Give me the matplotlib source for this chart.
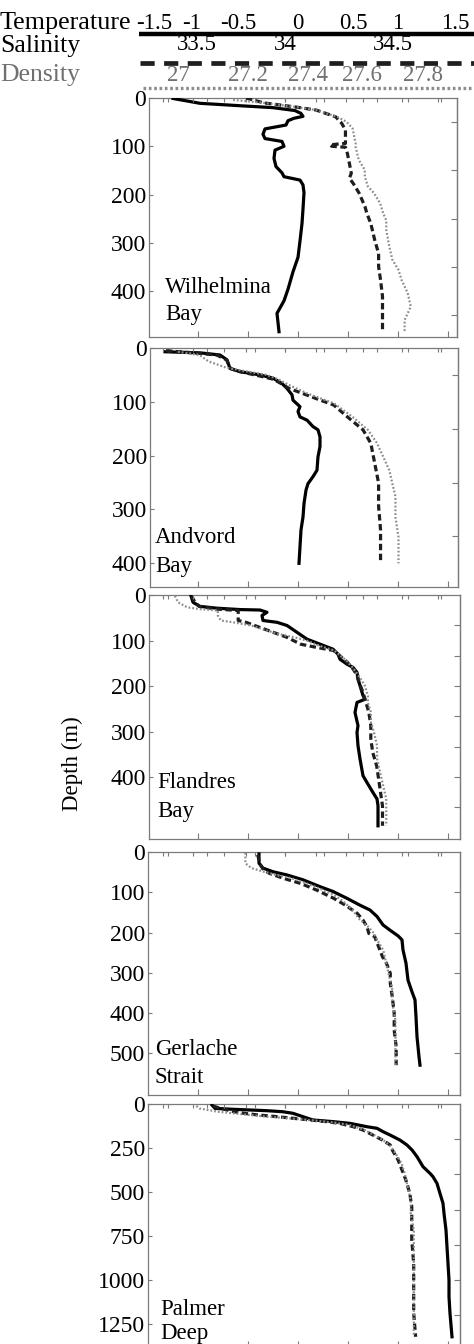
import matplotlib.pyplot as plt
import numpy as np

plt.rcParams['font.family'] = ['Liberation Serif', 'DejaVu Serif']

# ------------------------------------------------------------
# CTD profiles (depth in m, temperature degC, salinity, sigma-t)
# ------------------------------------------------------------
station_names = ['Wilhelmina\nBay', 'Andvord\nBay', 'Flandres\nBay',
                 'Gerlache\nStrait', 'Palmer\nDeep']

wb_temp_depth = [1, 11, 16, 20, 26, 32, 38, 42, 47, 56, 64, 75, 84, 90, 100, 108,
                 125, 142, 155, 163, 170, 180, 196, 230, 260, 296, 330, 360, 396,
                 420, 446, 465, 484]
wb_temp = [-1.25, -0.98, -0.58, -0.25, -0.03, 0.03, 0.05, -0.04, -0.10, -0.12,
           -0.33, -0.35, -0.33, -0.16, -0.14, -0.23, -0.24, -0.22, -0.16, -0.14,
           0.02, 0.05, 0.06, 0.05, 0.04, 0.02, 0.00, -0.05, -0.10, -0.14, -0.21,
           -0.20, -0.19]
wb_sal_depth = [0, 10, 19, 25, 39, 52, 66, 80, 94, 97, 100, 102, 115, 135, 156,
                166, 177, 197, 225, 239, 260, 294, 322, 349, 377, 411, 439, 460, 484]
wb_sal = [33.80, 33.89, 34.06, 34.16, 34.26, 34.29, 34.31, 34.31, 34.31, 34.23,
          34.24, 34.31, 34.32, 34.33, 34.34, 34.33, 34.35, 34.38, 34.41, 34.42,
          34.44, 34.46, 34.48, 34.48, 34.49, 34.50, 34.50, 34.50, 34.50]
wb_dens_depth = [4, 10, 19, 25, 39, 49, 63, 94, 101, 128, 149, 163, 183, 197, 218,
                 239, 253, 273, 308, 335, 356, 377, 404, 432, 446, 460, 484]
wb_dens = [27.18, 27.28, 27.39, 27.45, 27.52, 27.55, 27.57, 27.58, 27.58, 27.59,
           27.61, 27.61, 27.62, 27.64, 27.66, 27.67, 27.68, 27.68, 27.69, 27.70,
           27.72, 27.73, 27.75, 27.76, 27.75, 27.74, 27.74]

ab_temp_depth = [7, 9, 13, 22, 38, 44, 50, 56, 66, 75, 87, 97, 109, 118, 128, 134,
                 146, 152, 165, 183, 202, 227, 239, 252, 264, 289, 314, 338, 369, 400]
ab_temp = [-1.33, -0.98, -0.78, -0.71, -0.68, -0.58, -0.38, -0.25, -0.16, -0.11,
           -0.06, -0.05, 0.02, 0.00, 0.02, 0.09, 0.15, 0.20, 0.22, 0.22, 0.20, 0.19,
           0.15, 0.10, 0.08, 0.06, 0.05, 0.03, 0.02, 0.01]
ab_sal_depth = [5, 10, 13, 22, 38, 44, 52, 58, 66, 75, 83, 94, 106, 131, 152, 177,
                214, 251, 294, 338, 400]
ab_sal = [33.39, 33.56, 33.65, 33.70, 33.72, 33.77, 33.87, 33.94, 33.98, 34.02,
          34.08, 34.16, 34.25, 34.33, 34.40, 34.44, 34.46, 34.48, 34.48, 34.49, 34.49]
ab_dens_depth = [7, 13, 25, 37, 43, 50, 59, 68, 84, 103, 128, 152, 177, 202, 227,
                 252, 276, 314, 351, 400]
ab_dens = [27.00, 27.07, 27.10, 27.16, 27.22, 27.29, 27.33, 27.36, 27.42, 27.51,
           27.57, 27.62, 27.65, 27.67, 27.69, 27.70, 27.71, 27.71, 27.72, 27.72]

fb_temp_depth = [2, 16, 25, 29, 32, 33, 38, 45, 56, 60, 67, 82, 97, 108, 119, 130,
                 141, 152, 159, 170, 185, 199, 221, 229, 236, 258, 287, 302, 331,
                 360, 397, 412, 434, 448, 463, 507]
fb_temp = [-1.07, -1.05, -0.98, -0.81, -0.58, -0.38, -0.31, -0.36, -0.35, -0.21,
           -0.11, -0.01, 0.09, 0.22, 0.35, 0.40, 0.42, 0.49, 0.55, 0.59, 0.60, 0.62,
           0.65, 0.67, 0.59, 0.57, 0.60, 0.59, 0.60, 0.62, 0.65, 0.69, 0.75, 0.79,
           0.80, 0.80]
fb_sal_depth = [2, 17, 25, 31, 34, 56, 60, 71, 82, 93, 108, 115, 122, 133, 148, 163,
                177, 192, 214, 229, 243, 258, 287, 316, 346, 375, 404, 434, 463, 507]
fb_sal = [33.52, 33.54, 33.56, 33.65, 33.76, 33.76, 33.80, 33.87, 33.94, 34.01,
          34.08, 34.16, 34.25, 34.28, 34.32, 34.35, 34.37, 34.38, 34.40, 34.41,
          34.42, 34.43, 34.44, 34.44, 34.45, 34.47, 34.48, 34.49, 34.50, 34.50]
fb_dens_depth = [2, 16, 27, 31, 34, 45, 56, 60, 67, 78, 86, 93, 100, 111, 122, 133,
                 144, 159, 177, 199, 221, 236, 258, 280, 302, 331, 360, 390, 419,
                 448, 478, 507]
fb_dens = [26.99, 27.00, 27.03, 27.07, 27.13, 27.13, 27.14, 27.18, 27.24, 27.29,
           27.33, 27.38, 27.42, 27.46, 27.51, 27.53, 27.55, 27.57, 27.59, 27.61,
           27.62, 27.62, 27.63, 27.63, 27.64, 27.65, 27.65, 27.66, 27.67, 27.68,
           27.68, 27.68]

gs_temp_depth = [5, 28, 40, 49, 57, 69, 86, 98, 115, 132, 144, 160, 181, 194, 208,
                 218, 243, 276, 318, 347, 367, 409, 458, 508, 529]
gs_temp = [-0.39, -0.39, -0.35, -0.25, -0.11, 0.05, 0.22, 0.35, 0.49, 0.62, 0.72,
           0.79, 0.85, 0.92, 1.00, 1.04, 1.05, 1.08, 1.10, 1.14, 1.17, 1.18, 1.19,
           1.21, 1.22]
gs_sal_depth = [7, 28, 45, 53, 65, 78, 94, 115, 132, 152, 169, 185, 202, 210, 235,
                260, 276, 301, 326, 359, 400, 442, 483, 529]
gs_sal = [33.86, 33.87, 33.89, 33.92, 33.99, 34.08, 34.16, 34.25, 34.31, 34.37,
          34.40, 34.42, 34.43, 34.46, 34.48, 34.50, 34.52, 34.54, 34.54, 34.55,
          34.56, 34.56, 34.57, 34.57]
gs_dens_depth = [2, 16, 28, 40, 49, 57, 65, 78, 90, 107, 123, 144, 165, 185, 202,
                 218, 243, 276, 309, 342, 376, 417, 458, 491, 529]
gs_dens = [27.22, 27.22, 27.22, 27.24, 27.28, 27.32, 27.37, 27.42, 27.46, 27.51,
           27.54, 27.57, 27.59, 27.62, 27.64, 27.65, 27.67, 27.68, 27.69, 27.70,
           27.70, 27.71, 27.71, 27.71, 27.71]

pd_temp_depth = [6, 25, 30, 34, 38, 44, 53, 72, 91, 100, 110, 129, 138, 157, 176,
                 205, 233, 261, 299, 356, 394, 413, 451, 508, 564, 621, 716, 811,
                 905, 1000, 1095, 1189, 1322]
pd_temp = [-0.86, -0.83, -0.65, -0.48, -0.31, -0.15, -0.05, 0.05, 0.15, 0.35, 0.52,
           0.69, 0.79, 0.85, 0.92, 1.02, 1.09, 1.14, 1.19, 1.25, 1.32, 1.35, 1.39,
           1.42, 1.45, 1.46, 1.48, 1.49, 1.50, 1.51, 1.51, 1.52, 1.54]
pd_sal_depth = [11, 25, 44, 53, 63, 72, 81, 91, 100, 110, 129, 148, 176, 205, 233,
                261, 318, 375, 432, 508, 583, 659, 773, 905, 1038, 1189, 1322]
pd_sal = [33.63, 33.67, 33.74, 33.79, 33.87, 33.96, 34.04, 34.13, 34.21, 34.28,
          34.35, 34.40, 34.45, 34.50, 34.54, 34.55, 34.58, 34.60, 34.62, 34.64,
          34.65, 34.65, 34.65, 34.66, 34.66, 34.66, 34.67]
pd_dens_depth = [11, 25, 44, 53, 63, 72, 78, 87, 95, 106, 119, 148, 176, 205, 233,
                 280, 337, 394, 470, 545, 621, 716, 848, 1000, 1189, 1322]
pd_dens = [27.06, 27.07, 27.13, 27.18, 27.24, 27.29, 27.34, 27.40, 27.45, 27.51,
           27.56, 27.61, 27.64, 27.67, 27.69, 27.71, 27.73, 27.74, 27.75, 27.76,
           27.76, 27.77, 27.77, 27.77, 27.77, 27.77]

# header scale labels
temp_labels = [-1.5, -1, -0.5, 0, 0.5, 1, 1.5]
sal_labels = [33.5, 34, 34.5]
dens_labels = [27, 27.2, 27.4, 27.6, 27.8]

# depth tick labels (left) and tick marks (right) for each panel
depth_labels = [[0, 100, 200, 300, 400],
                [0, 100, 200, 300, 400],
                [0, 100, 200, 300, 400],
                [0, 100, 200, 300, 400, 500],
                [0, 250, 500, 750, 1000, 1250]]
depth_right_ticks = [[50, 150, 250, 350, 450],
                     [50, 150, 250, 350],
                     list(np.arange(1, 8) * 200 / 3),
                     [100, 200, 300, 400, 500],
                     [200, 400, 600, 800, 1000, 1200]]
depth_max = [495, 444, 536, 603, 1380]

profiles = [
    (wb_temp_depth, wb_temp, wb_sal_depth, wb_sal, wb_dens_depth, wb_dens),
    (ab_temp_depth, ab_temp, ab_sal_depth, ab_sal, ab_dens_depth, ab_dens),
    (fb_temp_depth, fb_temp, fb_sal_depth, fb_sal, fb_dens_depth, fb_dens),
    (gs_temp_depth, gs_temp, gs_sal_depth, gs_sal, gs_dens_depth, gs_dens),
    (pd_temp_depth, pd_temp, pd_sal_depth, pd_sal, pd_dens_depth, pd_dens),
]

# ------------------------------------------------------------
# layout (pixels of the 474 x 1344 picture)
# ------------------------------------------------------------
W, H = 474, 1344
frames = [(149, 98, 457, 337), (150, 348, 458, 587), (149, 595, 460, 839),
          (148, 852, 460, 1095), (148, 1104, 460, 1347)]
name_pos = [(165, 293, 320), (155, 543, 572), (157, 788, 817),
            (155, 1055, 1083), (160, 1315, 1339)]
GREY = '#7a7a7a'


def box(left, top, right, bottom):
    return [left / W, 1 - bottom / H, (right - left) / W, (bottom - top) / H]


# pixel -> value of the three shared horizontal scales
def temp_at(x):
    return (x - 298) / 100


def sal_at(x):
    return 34 + (x - 285) / 195


def dens_at(x):
    return 27 + (x - 178) / 306.25


fig = plt.figure(figsize=(W / 100, H / 100), dpi=100)

for i, (td, t, sd, s, dd, d) in enumerate(profiles):
    left, top, right, bottom = frames[i]
    ax = fig.add_axes(box(left, top, right, bottom))
    ax_s = ax.twiny()
    ax_d = ax.twiny()

    ax.plot(t, td, color='black', lw=2.3, zorder=3)
    ax_s.plot(s, sd, color='#1e1e1e', lw=2.3, ls=(0, (2.0, 1.1)))
    ax_d.plot(d, dd, color='#8c8c8c', lw=1.6, ls=(0, (0.8, 0.9)))

    ax.set_ylim(depth_max[i], 0)
    ax.set_xlim(temp_at(left), temp_at(right))
    ax_s.set_xlim(sal_at(left), sal_at(right))
    ax_d.set_xlim(dens_at(left), dens_at(right))

    ax.set_xticks([-1, -0.5, 0, 0.5, 1, 1.5])
    ax.tick_params(axis='x', bottom=True, top=False, labelbottom=False,
                   direction='in', length=4, width=0.8, color=GREY)
    ax.set_yticks(depth_labels[i])
    ax.set_yticklabels([str(v) for v in depth_labels[i]])
    ax.tick_params(axis='y', left=True, right=False, direction='in', length=3,
                   width=0.8, color=GREY, labelsize=17, pad=2)

    ax_s.set_xticks(np.arange(33.4, 34.85, 0.2))
    ax_d.set_xticks(np.arange(26.95, 27.9, 0.1))
    for tw in (ax_s, ax_d):
        tw.tick_params(axis='x', top=True, bottom=False, labeltop=False,
                       direction='in', length=3, width=0.8, color=GREY)
        for sp in tw.spines.values():
            sp.set_visible(False)

    sec = ax.secondary_yaxis('right')
    sec.set_yticks(depth_right_ticks[i])
    sec.tick_params(direction='in', length=4, width=0.8, color=GREY,
                    labelright=False)
    sec.spines['right'].set_color(GREY)
    sec.spines['right'].set_linewidth(0.9)

    for sp in ax.spines.values():
        sp.set_color(GREY)
        sp.set_linewidth(0.9)

    nx, ny1, ny2 = name_pos[i]
    for line, ny in zip(station_names[i].split('\n'), (ny1, ny2)):
        fig.text(nx / W, 1 - ny / H, line, fontsize=16.5, va='baseline', ha='left')

fig.text(72 / W, 1 - 764 / H, 'Depth (m)', rotation=90, fontsize=16.5,
         ha='center', va='center')

# ------------------------------------------------------------
# header with the three scales
# ------------------------------------------------------------
axh = fig.add_axes([0, 1 - 95 / H, 1, 95 / H])
axh.set_xlim(0, W)
axh.set_ylim(95, 0)
axh.axis('off')

temp_label_x = [154, 192, 238, 298, 353, 398, 455]
sal_label_x = [197, 285, 393]
dens_label_x = [178, 248, 308, 362, 423]

axh.text(0, 29, 'Temperature', fontsize=18.8, va='baseline', ha='left')
axh.text(0, 52, 'Salinity', fontsize=18.5, va='baseline', ha='left')
axh.text(0, 81, 'Density', fontsize=18.5, va='baseline', ha='left', color='#707070')

for v, x in zip(temp_labels, temp_label_x):
    axh.text(x, 29, f'{v:g}', fontsize=16.5, ha='center', va='baseline')
for v, x in zip(sal_labels, sal_label_x):
    axh.text(x, 50, f'{v:g}', fontsize=16.5, ha='center', va='baseline')
for v, x in zip(dens_labels, dens_label_x):
    axh.text(x, 81, f'{v:g}', fontsize=16.5, ha='center', va='baseline', color='#707070')

axh.plot([139, W], [33.5, 33.5], color='black', lw=3.2, solid_capstyle='butt')
axh.plot([140, W], [63, 63], color='#1e1e1e', lw=3.4, ls=(0, (3.0, 2.0)))
axh.plot([143, W], [88, 88], color='#8c8c8c', lw=2.4, ls=(0, (0.8, 0.8)))

fig.savefig('out.png', dpi=100)
